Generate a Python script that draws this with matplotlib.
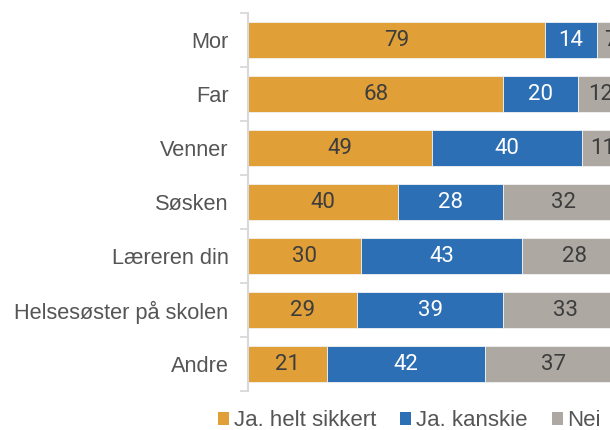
import matplotlib.pyplot as plt
from matplotlib.patches import Patch
import numpy as np

# data
kategorier = ['Mor', 'Far', 'Venner', 'Søsken', 'Læreren din',
              'Helsesøster på skolen', 'Andre']
helt_sikkert = [79, 68, 49, 40, 30, 29, 21]
kanskje = [14, 20, 40, 28, 43, 39, 42]
nei = [7, 12, 11, 32, 28, 33, 37]
serier = ['Ja. helt sikkert', 'Ja. kanskie', 'Nei']

farger = ['#E09F37', '#2D6FB4', '#ADA8A2']
tekstfarger = ['#3d3d3d', '#ffffff', '#3d3d3d']

plt.rcParams['font.family'] = ['Liberation Sans', 'DejaVu Sans']

W, H = 610, 430
fig = plt.figure(figsize=(W / 100, H / 100), dpi=100)
ax = fig.add_axes([248 / W, 1 - 391 / H, 362 / W, 378 / H])

y = np.arange(len(kategorier))
venstre = np.zeros(len(kategorier))
for verdier, farge, tf in zip([helt_sikkert, kanskje, nei], farger, tekstfarger):
    verdier = np.array(verdier, dtype=float)
    bars = ax.barh(y, verdier, left=venstre, height=0.67, color=farge,
                   edgecolor='#f2f2f2', linewidth=0.6)
    for b, v in zip(bars, verdier):
        ax.text(b.get_x() + b.get_width() / 2, b.get_y() + b.get_height() / 2,
                f'{v:.0f}', ha='center', va='center', color=tf,
                fontsize=16, family=['Roboto', 'DejaVu Sans'])
    venstre += verdier

ax.set_xlim(0, 362 / 3.755)
ax.set_ylim(len(kategorier) - 0.5, -0.5)
ax.set_yticks(y)
ax.set_yticklabels(kategorier, fontsize=15.7, color='#555555')
ax.set_yticks(np.arange(len(kategorier) + 1) - 0.5, minor=True)
ax.tick_params(axis='y', which='major', length=0, pad=14)
ax.tick_params(axis='y', which='minor', length=6, width=1.3, color='#d9d9d9')
ax.set_xticks([])
for s in ['top', 'right', 'bottom']:
    ax.spines[s].set_visible(False)
ax.spines['left'].set_color('#d9d9d9')
ax.spines['left'].set_linewidth(1.5)

handles = [Patch(facecolor=f, edgecolor='none') for f in farger]
fig.legend(handles, serier, loc='center left', bbox_to_anchor=(218 / W, 1 - 421 / H),
           ncol=3, frameon=False, fontsize=16, handlelength=0.5,
           handleheight=0.5, handletextpad=0.2, columnspacing=1.1,
           borderpad=0, borderaxespad=0, labelcolor='#555555')

fig.savefig('out.png', dpi=100)
